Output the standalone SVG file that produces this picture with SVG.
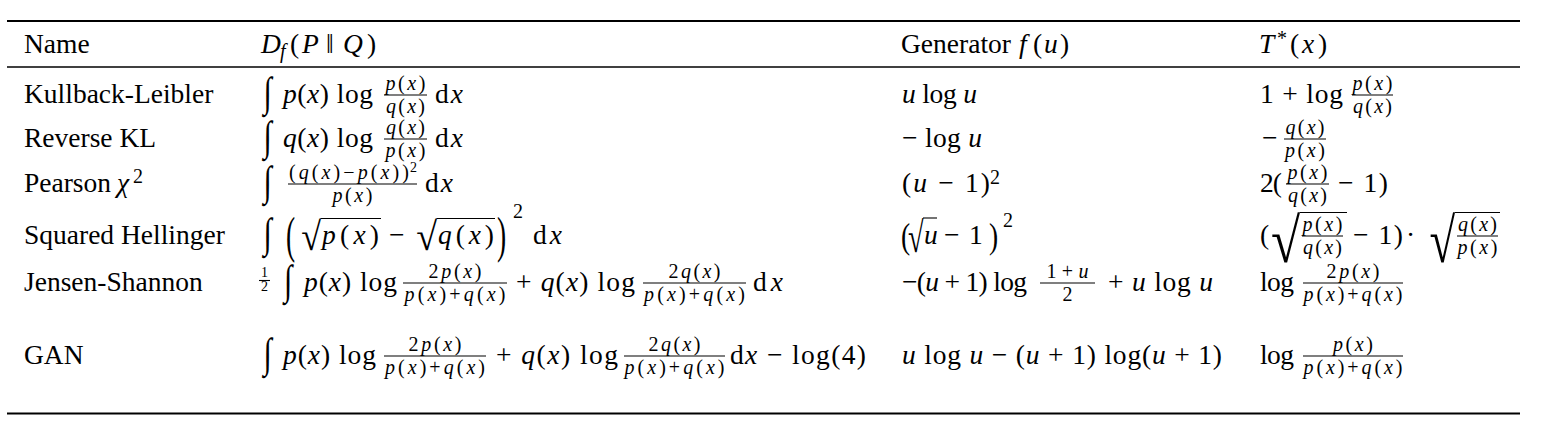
<svg xmlns="http://www.w3.org/2000/svg" width="1544" height="436" viewBox="0 0 1544 436">
<style>
text { font-family: "Liberation Serif", "DejaVu Serif", serif; font-size: 27.5px; fill: #000; }
.i { font-style: italic; }
.s { font-size: 20px; }
.ss { font-size: 14px; }
.m { text-anchor: middle; }
.bar { stroke: #000; stroke-width: 1.1; }
.rt { stroke: #000; stroke-width: 2.2; }
.rm { stroke: #000; stroke-width: 1.3; }
</style>
<rect width="1544" height="436" fill="#fff"/>
<g id="rules">
<line class="rt" x1="7" y1="21" x2="1520" y2="21"/>
<line class="rm" x1="7" y1="67" x2="1520" y2="67"/>
<line class="rt" x1="7" y1="413.5" x2="1520" y2="413.5"/>
</g>
<g id="header">
<text x="24" y="53">Name</text>
<text y="53"><tspan class="i" x="261">D</tspan><tspan class="i s" x="280" y="58">f</tspan><tspan x="290" y="53">(</tspan><tspan class="i" x="302">P</tspan><tspan x="326">‖</tspan><tspan class="i" x="343">Q</tspan><tspan x="367">)</tspan></text>
<text y="53"><tspan x="901">Generator</tspan><tspan class="i" x="1019">f</tspan><tspan x="1033">(</tspan><tspan class="i" x="1044">u</tspan><tspan x="1060">)</tspan></text>
<text y="53"><tspan class="i" x="1259">T</tspan><tspan class="s" x="1277" y="45">*</tspan><tspan x="1290" y="53">(</tspan><tspan class="i" x="1302">x</tspan><tspan x="1318">)</tspan></text>
</g>
<g id="row-kl">
<text x="24" y="103">Kullback-Leibler</text>
<text transform="translate(263.5,106) scale(1.1,1.52)">∫</text>
<text x="283" y="103" textLength="90" lengthAdjust="spacing"><tspan class="i">p</tspan>(<tspan class="i">x</tspan>) log</text>
<text class="s m" x="405.5" y="90" textLength="40" lengthAdjust="spacing"><tspan class="i">p</tspan>(<tspan class="i">x</tspan>)</text>
<line class="bar" x1="384" y1="95" x2="427" y2="95"/>
<text class="s m" x="405.5" y="113" textLength="39" lengthAdjust="spacing"><tspan class="i">q</tspan>(<tspan class="i">x</tspan>)</text>
<text x="435" y="103" textLength="28" lengthAdjust="spacing">d<tspan class="i">x</tspan></text>
<text x="902" y="103" textLength="75" lengthAdjust="spacing"><tspan class="i">u</tspan> log <tspan class="i">u</tspan></text>
<text x="1260" y="103" textLength="83" lengthAdjust="spacing">1 + log</text>
<text class="s m" x="1372.5" y="90" textLength="40" lengthAdjust="spacing"><tspan class="i">p</tspan>(<tspan class="i">x</tspan>)</text>
<line class="bar" x1="1352" y1="95" x2="1393" y2="95"/>
<text class="s m" x="1372.5" y="113" textLength="39" lengthAdjust="spacing"><tspan class="i">q</tspan>(<tspan class="i">x</tspan>)</text>
</g>
<g id="row-rkl">
<text x="24" y="147">Reverse KL</text>
<text transform="translate(263.5,150) scale(1.1,1.52)">∫</text>
<text x="283" y="147" textLength="90" lengthAdjust="spacing"><tspan class="i">q</tspan>(<tspan class="i">x</tspan>) log</text>
<text class="s m" x="405.5" y="134" textLength="39" lengthAdjust="spacing"><tspan class="i">q</tspan>(<tspan class="i">x</tspan>)</text>
<line class="bar" x1="384" y1="139" x2="427" y2="139"/>
<text class="s m" x="405.5" y="157" textLength="40" lengthAdjust="spacing"><tspan class="i">p</tspan>(<tspan class="i">x</tspan>)</text>
<text x="435" y="147" textLength="28" lengthAdjust="spacing">d<tspan class="i">x</tspan></text>
<text x="902" y="147" textLength="80" lengthAdjust="spacing">− log <tspan class="i">u</tspan></text>
<text x="1262" y="147">−</text>
<text class="s m" x="1305" y="134" textLength="39" lengthAdjust="spacing"><tspan class="i">q</tspan>(<tspan class="i">x</tspan>)</text>
<line class="bar" x1="1284" y1="139" x2="1326" y2="139"/>
<text class="s m" x="1305" y="157" textLength="40" lengthAdjust="spacing"><tspan class="i">p</tspan>(<tspan class="i">x</tspan>)</text>
</g>
<g id="row-pearson">
<text y="192"><tspan x="24">Pearson</tspan><tspan class="i" x="117">χ</tspan><tspan class="s" x="133" y="183">2</tspan></text>
<text transform="translate(263.5,195) scale(1.1,1.52)">∫</text>
<text class="s" x="289" y="179" textLength="120" lengthAdjust="spacing">(<tspan class="i">q</tspan>(<tspan class="i">x</tspan>)−<tspan class="i">p</tspan>(<tspan class="i">x</tspan>))</text>
<text class="ss" x="410" y="172">2</text>
<line class="bar" x1="288" y1="184" x2="417" y2="184"/>
<text class="s m" x="352.5" y="202" textLength="40" lengthAdjust="spacing"><tspan class="i">p</tspan>(<tspan class="i">x</tspan>)</text>
<text x="425" y="192" textLength="28" lengthAdjust="spacing">d<tspan class="i">x</tspan></text>
<text x="902" y="192" textLength="88" lengthAdjust="spacing">(<tspan class="i">u</tspan> − 1)</text>
<text class="s" x="990" y="184">2</text>
<text x="1260" y="192" textLength="22" lengthAdjust="spacing">2(</text>
<text class="s m" x="1307.5" y="179" textLength="40" lengthAdjust="spacing"><tspan class="i">p</tspan>(<tspan class="i">x</tspan>)</text>
<line class="bar" x1="1286" y1="184" x2="1329" y2="184"/>
<text class="s m" x="1307.5" y="202" textLength="39" lengthAdjust="spacing"><tspan class="i">q</tspan>(<tspan class="i">x</tspan>)</text>
<text x="1338" y="192" textLength="50" lengthAdjust="spacing">− 1)</text>
</g>
<g id="row-hellinger">
<text x="24" y="244">Squared Hellinger</text>
<text transform="translate(263.5,247) scale(1.1,1.52)">∫</text>
<text transform="translate(286,252) scale(1,1.85)">(</text>
<text transform="translate(301.3,250) scale(1.31,1.45)">√</text>
<line class="bar" x1="320.5" y1="218.5" x2="381" y2="218.5"/>
<text x="322" y="244" textLength="57" lengthAdjust="spacing"><tspan class="i">p</tspan>(<tspan class="i">x</tspan>)</text>
<text x="389" y="244">−</text>
<text transform="translate(416.3,250) scale(1.38,1.45)">√</text>
<line class="bar" x1="436.5" y1="218.5" x2="495" y2="218.5"/>
<text x="438" y="244" textLength="56" lengthAdjust="spacing"><tspan class="i">q</tspan>(<tspan class="i">x</tspan>)</text>
<text transform="translate(497,252) scale(1,1.85)">)</text>
<text class="s" x="513" y="218">2</text>
<text x="533" y="244" textLength="29" lengthAdjust="spacing">d<tspan class="i">x</tspan></text>
<text transform="translate(901,248) scale(1,1.3)">(</text>
<text transform="translate(908,252) scale(1.03,1.56)">√</text>
<line class="bar" x1="923" y1="218" x2="937" y2="218"/>
<text class="i" x="924" y="244">u</text>
<text x="944" y="244">−</text>
<text x="969" y="244">1</text>
<text transform="translate(989,248) scale(1,1.3)">)</text>
<text class="s" x="1003" y="227">2</text>
<text x="1260" y="244">(</text>
<text transform="translate(1271,262) scale(1.93,2.29)">√</text>
<line class="bar" x1="1300" y1="212.5" x2="1347" y2="212.5"/>
<text class="s m" x="1322.5" y="231" textLength="40" lengthAdjust="spacing"><tspan class="i">p</tspan>(<tspan class="i">x</tspan>)</text>
<line class="bar" x1="1302" y1="236" x2="1343" y2="236"/>
<text class="s m" x="1322.5" y="254" textLength="39" lengthAdjust="spacing"><tspan class="i">q</tspan>(<tspan class="i">x</tspan>)</text>
<text x="1353" y="244" textLength="50" lengthAdjust="spacing">− 1)</text>
<text x="1406" y="244">·</text>
<text transform="translate(1429.5,262) scale(1.7,2.29)">√</text>
<line class="bar" x1="1455" y1="212.5" x2="1500" y2="212.5"/>
<text class="s m" x="1477.5" y="231" textLength="39" lengthAdjust="spacing"><tspan class="i">q</tspan>(<tspan class="i">x</tspan>)</text>
<line class="bar" x1="1457" y1="236" x2="1498" y2="236"/>
<text class="s m" x="1477.5" y="254" textLength="40" lengthAdjust="spacing"><tspan class="i">p</tspan>(<tspan class="i">x</tspan>)</text>
</g>
<g id="row-js">
<text x="24" y="291">Jensen-Shannon</text>
<text class="ss m" x="264.5" y="277">1</text>
<line class="bar" x1="259" y1="280.5" x2="270" y2="280.5"/>
<text class="ss m" x="264.5" y="291">2</text>
<text transform="translate(284,294) scale(1.1,1.52)">∫</text>
<text x="304" y="291" textLength="93" lengthAdjust="spacing"><tspan class="i">p</tspan>(<tspan class="i">x</tspan>) log</text>
<text class="s m" x="455" y="277.5" textLength="53" lengthAdjust="spacing">2<tspan class="i">p</tspan>(<tspan class="i">x</tspan>)</text>
<line class="bar" x1="403" y1="283" x2="507" y2="283"/>
<text class="s m" x="455" y="300.5" textLength="101" lengthAdjust="spacing"><tspan class="i">p</tspan>(<tspan class="i">x</tspan>)+<tspan class="i">q</tspan>(<tspan class="i">x</tspan>)</text>
<text x="516" y="291" textLength="119" lengthAdjust="spacing">+ <tspan class="i">q</tspan>(<tspan class="i">x</tspan>) log</text>
<text class="s m" x="694.5" y="277.5" textLength="52" lengthAdjust="spacing">2<tspan class="i">q</tspan>(<tspan class="i">x</tspan>)</text>
<line class="bar" x1="643" y1="283" x2="746" y2="283"/>
<text class="s m" x="694.5" y="300.5" textLength="101" lengthAdjust="spacing"><tspan class="i">p</tspan>(<tspan class="i">x</tspan>)+<tspan class="i">q</tspan>(<tspan class="i">x</tspan>)</text>
<text x="753" y="291" textLength="30" lengthAdjust="spacing">d<tspan class="i">x</tspan></text>
<text x="902" y="291" textLength="125" lengthAdjust="spacing">−(<tspan class="i">u</tspan> + 1) log</text>
<text class="s m" x="1067.5" y="277.5" textLength="42" lengthAdjust="spacing">1+<tspan class="i">u</tspan></text>
<line class="bar" x1="1040" y1="283" x2="1095" y2="283"/>
<text class="s m" x="1067.5" y="300.5">2</text>
<text x="1108" y="291" textLength="105" lengthAdjust="spacing">+ <tspan class="i">u</tspan> log <tspan class="i">u</tspan></text>
<text x="1260" y="291" textLength="34" lengthAdjust="spacing">log</text>
<text class="s m" x="1353" y="277.5" textLength="53" lengthAdjust="spacing">2<tspan class="i">p</tspan>(<tspan class="i">x</tspan>)</text>
<line class="bar" x1="1303" y1="283" x2="1403" y2="283"/>
<text class="s m" x="1353" y="300.5" textLength="99" lengthAdjust="spacing"><tspan class="i">p</tspan>(<tspan class="i">x</tspan>)+<tspan class="i">q</tspan>(<tspan class="i">x</tspan>)</text>
</g>
<g id="row-gan">
<text x="24" y="364">GAN</text>
<text transform="translate(263.5,367) scale(1.1,1.52)">∫</text>
<text x="283" y="364" textLength="93" lengthAdjust="spacing"><tspan class="i">p</tspan>(<tspan class="i">x</tspan>) log</text>
<text class="s m" x="435" y="350.5" textLength="53" lengthAdjust="spacing">2<tspan class="i">p</tspan>(<tspan class="i">x</tspan>)</text>
<line class="bar" x1="384" y1="356" x2="486" y2="356"/>
<text class="s m" x="435" y="373.5" textLength="100" lengthAdjust="spacing"><tspan class="i">p</tspan>(<tspan class="i">x</tspan>)+<tspan class="i">q</tspan>(<tspan class="i">x</tspan>)</text>
<text x="496" y="364" textLength="122" lengthAdjust="spacing">+ <tspan class="i">q</tspan>(<tspan class="i">x</tspan>) log</text>
<text class="s m" x="674.5" y="350.5" textLength="52" lengthAdjust="spacing">2<tspan class="i">q</tspan>(<tspan class="i">x</tspan>)</text>
<line class="bar" x1="624" y1="356" x2="725" y2="356"/>
<text class="s m" x="674.5" y="373.5" textLength="100" lengthAdjust="spacing"><tspan class="i">p</tspan>(<tspan class="i">x</tspan>)+<tspan class="i">q</tspan>(<tspan class="i">x</tspan>)</text>
<text x="730" y="364" textLength="136" lengthAdjust="spacing">d<tspan class="i">x</tspan> − log(4)</text>
<text x="902" y="364" textLength="320" lengthAdjust="spacing"><tspan class="i">u</tspan> log <tspan class="i">u</tspan> − (<tspan class="i">u</tspan> + 1) log(<tspan class="i">u</tspan> + 1)</text>
<text x="1260" y="364" textLength="34" lengthAdjust="spacing">log</text>
<text class="s m" x="1353" y="350.5" textLength="40" lengthAdjust="spacing"><tspan class="i">p</tspan>(<tspan class="i">x</tspan>)</text>
<line class="bar" x1="1303" y1="356" x2="1403" y2="356"/>
<text class="s m" x="1353" y="373.5" textLength="99" lengthAdjust="spacing"><tspan class="i">p</tspan>(<tspan class="i">x</tspan>)+<tspan class="i">q</tspan>(<tspan class="i">x</tspan>)</text>
</g>
</svg>
